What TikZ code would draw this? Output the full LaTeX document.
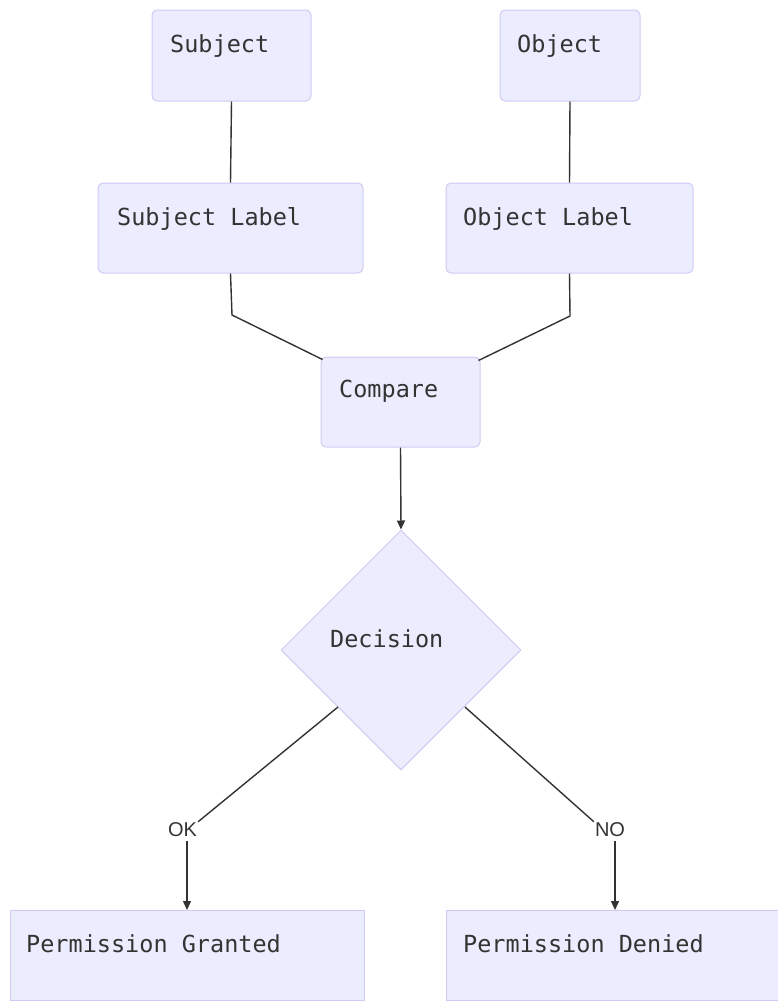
\documentclass[tikz,border=0pt]{standalone}
\usepackage{fontspec}
\setmonofont{DejaVu Sans Mono}
\setmainfont{Liberation Sans}
\usetikzlibrary{shapes.geometric,arrows.meta,calc}
\definecolor{boxfill}{HTML}{ECECFF}
\definecolor{boxline}{HTML}{CFCAF2}
\definecolor{txtcol}{HTML}{333333}
\definecolor{linecol}{HTML}{333333}
\begin{document}
\begin{tikzpicture}[x=1pt,y=-1pt,
  box/.style={draw=boxline,fill=boxfill,line width=1pt,rounded corners=5pt,inner sep=0pt},
  sqbox/.style={draw=boxline,fill=boxfill,line width=1pt,inner sep=0pt},
  dia/.style={diamond,draw=boxline,fill=boxfill,line width=1pt,inner sep=0pt,minimum width=240pt,minimum height=240pt},
  txt/.style={anchor=base west,inner sep=0pt,text=txtcol,font=\ttfamily\fontsize{23.5}{28}\selectfont},
  lbl/.style={inner sep=1pt,text=txtcol,font=\fontsize{20}{24}\selectfont},
  conn/.style={draw=linecol,line width=1.4pt},
  arr/.style={conn,-{Triangle[length=9pt,width=8pt]}}]
\useasboundingbox (0,0) rectangle (778,1001);
% boxes
\node[box,minimum width=159pt,minimum height=91pt] (subj) at (231.5,55.5) {};
\node[box,minimum width=140pt,minimum height=91pt] (obj) at (570,55.5) {};
\node[box,minimum width=265pt,minimum height=90pt] (subjl) at (230.5,228) {};
\node[box,minimum width=247pt,minimum height=90pt] (objl) at (569.5,228) {};
\node[box,minimum width=159pt,minimum height=90pt] (comp) at (400.5,402) {};
\node[dia] (dec) at (401,650) {};
\node[sqbox,minimum width=354pt,minimum height=90pt] (pg) at (187,955) {};
\node[sqbox,minimum width=336pt,minimum height=90pt] (pd) at (614,955) {};
% texts
\node[txt] (tsubj) at (170,52) {Subject};
\node[txt] (tobj) at (517,52) {Object};
\node[txt] (tsubjl) at (117,225) {Subject Label};
\node[txt] (tobjl) at (463,225) {Object Label};
\node[txt] (tcomp) at (339,397) {Compare};
\node[txt] (tdec) at (330,647) {Decision};
\node[txt] (tpg) at (26,952) {Permission Granted};
\node[txt] (tpd) at (463,952) {Permission Denied};
% edge labels
\node[lbl] (ok) at (182.5,830) {OK};
\node[lbl] (no) at (610,830) {NO};
% connectors
\draw[conn] (subj.south) -- (subjl.north);
\draw[conn] (obj.south) -- (objl.north);
\coordinate (sbend) at (232,315);
\coordinate (obend) at (570,316);
\draw[conn] (subjl.south) -- (sbend) -- ($(comp.north west)+(2,3)$);
\draw[conn] (objl.south) -- (obend) -- ($(comp.north east)+(-2,4)$);
\draw[arr] (comp.south) -- (dec.north);
\coordinate (okstart) at (338,707);
\coordinate (nostart) at (465,707);
\draw[conn] (okstart) -- (ok.north east);
\draw[arr] (187,841) -- (187,910);
\draw[conn] (nostart) -- (no.north west);
\draw[arr] (615,841) -- (615,910);
\end{tikzpicture}
\end{document}
